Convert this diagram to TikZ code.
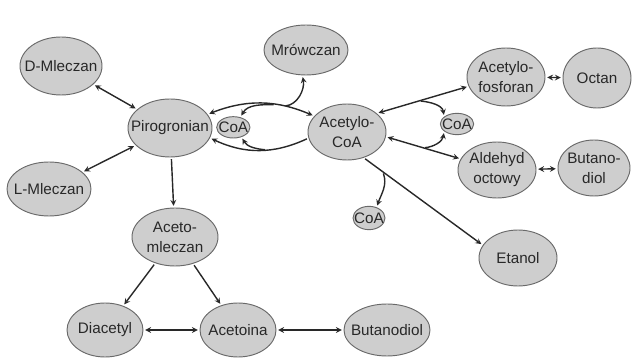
\documentclass[tikz,border=0pt]{standalone}
\usepackage{fontspec}
\setmainfont{Liberation Sans}
\usepackage{xcolor}
\definecolor{grisClaro}{RGB}{206, 206, 206}
\definecolor{grisBorde}{RGB}{105, 105, 105}
\definecolor{grisOscuro}{RGB}{40, 40, 40}
\usepackage{tikz}
\usetikzlibrary{arrows,shapes,calc}
\tikzstyle{edge}  =[shorten <=1.5pt, shorten >=1.5pt, ->,
                    >=stealth, line width=1.2pt, grisOscuro]
\tikzstyle{dedge} =[edge, <->]
\tikzstyle{vertex}=[ellipse, draw=grisBorde, fill=grisClaro,
                    line width=0.8pt, inner sep=-20pt, align=center,
                    text=grisOscuro, font=\fontsize{13}{17}\selectfont,
                    minimum width=2.4cm, minimum height=1.68cm]
\tikzstyle{svertex}=[vertex, minimum width=1cm, minimum height=0.64cm]

\begin{document}
\begin{tikzpicture}
    \useasboundingbox (0,0) rectangle (18.96,10.74);

    \draw (1.83,8.76) node(0)[vertex,minimum width=2.46cm,minimum height=1.74cm]{D-Mleczan};
    \draw (1.47,5.07) node(1)[vertex,minimum width=2.52cm,minimum height=1.62cm]{L-Mleczan};
    \draw (5.10,6.90) node(2)[vertex,minimum width=2.52cm,minimum height=1.74cm]{Pirogronian};
    \draw (7.00,6.92) node(3)[svertex]{CoA};
    \draw (10.41,6.78) node(4)[vertex,minimum width=2.34cm]{Acetylo-\\CoA};
    \draw (15.18,8.43) node(5)[vertex,minimum width=2.34cm,minimum height=1.74cm]{Acetylo-\\fosforan};
    \draw (17.91,8.40) node(6)[vertex,minimum width=2.04cm,minimum height=1.8cm]{Octan};
    \draw (13.71,7.02) node(7)[svertex]{CoA};
    \draw (14.91,5.64) node(8)[vertex,minimum width=2.34cm]{Aldehyd\\octowy};
    \draw (17.82,5.70) node(9)[vertex,minimum width=2.16cm]{Butano-\\diol};
    \draw (11.07,4.20) node(10)[svertex,minimum width=0.96cm,minimum height=0.7cm]{CoA};
    \draw (15.54,3.00) node(11)[vertex,minimum width=2.34cm]{Etanol};
    \draw (9.18,9.24) node(12)[vertex,minimum width=2.52cm,minimum height=1.5cm]{Mrówczan};
    \draw (5.25,3.63) node(13)[vertex,minimum width=2.58cm,minimum height=1.74cm]{Aceto-\\mleczan};
    \draw (3.15,0.84) node(14)[vertex,minimum width=2.28cm,minimum height=1.62cm]{Diacetyl};
    \draw (7.14,0.84) node(15)[vertex,minimum width=2.28cm,minimum height=1.62cm]{Acetoina};
    \draw (11.61,0.84) node(16)[vertex,minimum width=2.58cm,minimum height=1.56cm]{Butanodiol};

    \foreach \i/\j in {0/2,1/2,14/15,15/16,5/6,8/9}
        \draw [dedge] (\i) to (\j);
    \foreach \i/\j in {2/13,13/14,13/15}
        \draw [edge] (\i) to (\j);

    % Pirogronian <-> Acetylo-CoA
    \draw [dedge] (2.20) to[bend left=22] coordinate[pos=0.64](c1)
        coordinate[pos=0.72](c2) (4.154);
    \draw [edge] (c2) to[out=5,in=-80] (12.262);
    \draw [edge] (c1) to[out=180,in=60] (3.55);
    \draw [edge,<-] (2.-14) to[bend right=25] coordinate[pos=0.58](c3) (4.189);
    \draw [edge] (c3) to[out=175,in=-60] (3.-50);

    % Acetylo-CoA
    \draw [dedge] (4.32) -- coordinate[pos=0.46](c4) (5.194);
    \draw [edge] (c4) to[out=-5,in=100] (7.150);
    \draw [dedge] (4.-7) -- coordinate[pos=0.5](c5) (8.163);
    \draw [edge] (c5) to[out=5,in=-100] (7.-150);
    \draw [edge] (4.-57) -- coordinate[pos=0.16](c6) (11.160);
    \draw [edge] (c6) to[out=-70,in=70] (10.55);

\end{tikzpicture}
\end{document}
